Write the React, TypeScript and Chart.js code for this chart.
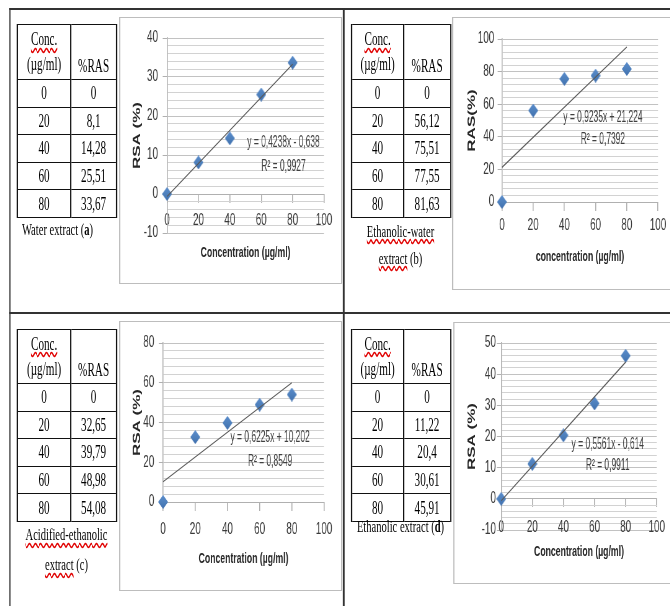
import React, { useEffect, useRef } from "react";
import { Chart, registerables } from "chart.js";

Chart.register(...registerables);
Chart.defaults.font.family = '"Liberation Sans", Arial, sans-serif';

// Whole figure is horizontally compressed (as in the reference image)
const S = 0.62;

// ---------------- data ----------------
const concentrations = [0, 20, 40, 60, 80];
const rasWater = [0, 8.1, 14.28, 25.51, 33.67];
const rasEthanolWater = [0, 56.12, 75.51, 77.55, 81.63];
const rasAcidEthanol = [0, 32.65, 39.79, 48.98, 54.08];
const rasEthanol = [0, 11.22, 20.4, 30.61, 45.91];

// trendline: slope, intercept, R²
const fitWater = [0.4238, -0.638, 0.9927];
const fitEthanolWater = [0.9235, 21.224, 0.7392];
const fitAcidEthanol = [0.6225, 10.202, 0.8549];
const fitEthanol = [0.5561, -0.614, 0.9911];

// y axis: min, max, major step
const yRangeWater = [-10, 40, 10];
const yRangeEthanolWater = [0, 100, 20];
const yRangeAcidEthanol = [0, 80, 20];
const yRangeEthanol = [-10, 50, 10];
const xRange = [0, 100, 20];

const headerConc = "Conc.";
const headerUnit = "(µg/ml)";
const headerRas = "%RAS";

const fmt = (n: number) => String(n).replace(".", ",");

const SERIF = '"Liberation Serif", "Times New Roman", serif';
const AXIS = "#b0b0b0";

function makeDiamond(w: number, h: number) {
  const c = document.createElement("canvas");
  c.width = w;
  c.height = h;
  const g = c.getContext("2d")!;
  const grad = g.createLinearGradient(0, 0, 0, h);
  grad.addColorStop(0, "#5a8ccc");
  grad.addColorStop(0.5, "#4f81bd");
  grad.addColorStop(1, "#3f6fae");
  g.fillStyle = grad;
  g.beginPath();
  g.moveTo(w / 2, 0);
  g.lineTo(w, h / 2);
  g.lineTo(w / 2, h);
  g.lineTo(0, h / 2);
  g.closePath();
  g.fill();
  return c;
}

type ChartProps = {
  box: number[];
  pad: { left: number; right: number; top: number; bottom: number };
  yAxisW: number;
  yTitlePad: number;
  yTickPad: number;
  xTickPad: number;
  xTitlePad: number;
  yRange: number[];
  values: number[];
  fit: number[];
  eqAt: number[];
  yTitle: string;
  xTitle: string;
};

function RegressionChart(p: ChartProps) {
  const ref = useRef<HTMLCanvasElement>(null);
  const [bl, bt, br, bb] = p.box;
  const W = Math.round((br - bl) / S);
  const H = bb - bt;

  useEffect(() => {
    const canvas = ref.current;
    if (!canvas) return;
    const [yMin, yMax, yMajor] = p.yRange;
    const [slope, intercept, r2] = p.fit;
    const isMajor = (v: number) =>
      Math.abs(v / yMajor - Math.round(v / yMajor)) < 1e-6;
    const first = concentrations[0];
    const last = concentrations[concentrations.length - 1];
    const diamond = makeDiamond(16, 14);
    const eqText = `y = ${fmt(slope)}x ${intercept < 0 ? "-" : "+"} ${fmt(
      Math.abs(intercept)
    )}`;
    const r2Text = `R² = ${fmt(r2)}`;

    const eqPlugin = {
      id: "eqLabel",
      afterDatasetsDraw(chart: any) {
        const { ctx, scales } = chart;
        const xs = scales.x;
        const ys = scales.y;
        const px = xs.getPixelForValue(p.eqAt[0]);
        const lines: [string, number][] = [
          [eqText, ys.getPixelForValue(p.eqAt[1])],
          [r2Text, ys.getPixelForValue(p.eqAt[2])],
        ];
        for (const [t, py] of lines) {
          ctx.save();
          ctx.font = '16px "Liberation Sans", Arial, sans-serif';
          ctx.fillStyle = "#404040";
          ctx.textAlign = "center";
          ctx.textBaseline = "middle";
          ctx.translate(px, py);
          ctx.scale(0.85, 1);
          ctx.fillText(t, 0, 0);
          ctx.restore();
        }
      },
    };

    const chart = new Chart(canvas, {
      type: "scatter",
      data: {
        datasets: [
          {
            label: "Trendline",
            data: [
              { x: first, y: slope * first + intercept },
              { x: last, y: slope * last + intercept },
            ],
            showLine: true,
            borderColor: "#5a5a5a",
            borderWidth: 1.3,
            pointRadius: 0,
            pointHoverRadius: 0,
            order: 0,
            clip: false,
          } as any,
          {
            label: "%RAS",
            data: concentrations.map((c, i) => ({ x: c, y: p.values[i] })),
            pointStyle: diamond as any,
            pointRadius: 7,
            backgroundColor: "#4f81bd",
            borderColor: "#4f81bd",
            order: 1,
            clip: false,
          } as any,
        ],
      },
      options: {
        animation: false,
        responsive: false,
        maintainAspectRatio: false,
        events: [],
        layout: { padding: p.pad },
        plugins: {
          legend: { display: false },
          tooltip: { enabled: false },
        },
        scales: {
          x: {
            type: "linear",
            position: { y: 0 } as any,
            min: xRange[0],
            max: xRange[1],
            ticks: {
              stepSize: xRange[2],
              padding: p.xTickPad,
              color: "#3a3a3a",
              font: { size: 16 },
              maxRotation: 0,
              autoSkip: false,
            },
            grid: {
              drawOnChartArea: false,
              drawTicks: true,
              tickLength: 8,
              color: AXIS,
              lineWidth: 1.6,
            },
            border: { display: true, color: AXIS, width: 1 },
            title: {
              display: true,
              text: p.xTitle,
              color: "#262626",
              font: { size: 14, weight: "bold" },
              padding: { top: p.xTitlePad, bottom: 0 },
            },
          },
          y: {
            type: "linear",
            position: "left",
            min: yMin,
            max: yMax,
            afterFit: (s: any) => {
              s.width = p.yAxisW;
            },
            ticks: {
              stepSize: yMajor / 5,
              autoSkip: false,
              padding: p.yTickPad,
              color: "#3a3a3a",
              font: { size: 16 },
              callback: (v: any) =>
                isMajor(Number(v)) ? String(Math.round(Number(v))) : "",
            },
            grid: {
              drawTicks: true,
              tickLength: 7,
              lineWidth: 1,
              color: (c: any) =>
                c.tick && isMajor(c.tick.value) ? "#c2c2c2" : "#d2d2d2",
              tickColor: (c: any) =>
                c.tick && isMajor(c.tick.value) ? AXIS : "rgba(0,0,0,0)",
            },
            border: { display: true, color: AXIS, width: 1.6 },
            title: {
              display: true,
              text: p.yTitle,
              color: "#262626",
              font: { size: 17, weight: "bold" },
              padding: { top: p.yTitlePad, bottom: 0 },
            },
          } as any,
        },
      },
      plugins: [eqPlugin],
    });
    return () => chart.destroy();
  }, []);

  return (
    <>
      <div
        style={{
          position: "absolute",
          left: bl / S,
          top: bt,
          width: W,
          height: H,
          boxSizing: "border-box",
          borderStyle: "solid",
          borderColor: "#bdbdbd",
          borderWidth: "1.5px 2.4px",
          background: "#fff",
        }}
      />
      <canvas
        ref={ref}
        width={W}
        height={H}
        style={{
          position: "absolute",
          left: bl / S,
          top: bt,
          width: W,
          height: H,
        }}
      />
    </>
  );
}

const wavy: React.CSSProperties = {
  textDecorationLine: "underline",
  textDecorationStyle: "wavy",
  textDecorationColor: "#e00000",
  textUnderlineOffset: "2px",
};

function DataTable(p: {
  x: number;
  y: number;
  c1: number;
  c2: number;
  headerH: number;
  rowH: number;
  values: number[];
}) {
  const cell: React.CSSProperties = {
    padding: 0,
    textAlign: "center",
    verticalAlign: "middle",
    borderTop: "1px solid #111",
    borderBottom: "1px solid #111",
    borderLeft: "2px solid #111",
    borderRight: "2px solid #111",
    fontFamily: SERIF,
    fontSize: 18,
    lineHeight: "20px",
    color: "#000",
  };
  return (
    <table
      style={{
        position: "absolute",
        left: p.x / S,
        top: p.y,
        width: (p.c1 + p.c2) / S,
        borderCollapse: "collapse",
        tableLayout: "fixed",
      }}
    >
      <colgroup>
        <col style={{ width: p.c1 / S }} />
        <col style={{ width: p.c2 / S }} />
      </colgroup>
      <tbody>
        <tr style={{ height: p.headerH }}>
          <td style={{ ...cell, lineHeight: "25px" }}>
            <span style={wavy}>{headerConc}</span>
            <br />
            {headerUnit}
          </td>
          <td style={{ ...cell, verticalAlign: "bottom", lineHeight: "25px" }}>
            {headerRas}
          </td>
        </tr>
        {concentrations.map((c, i) => (
          <tr key={c} style={{ height: p.rowH }}>
            <td style={cell}>{fmt(c)}</td>
            <td style={cell}>{fmt(p.values[i])}</td>
          </tr>
        ))}
      </tbody>
    </table>
  );
}

function Line(p: { x: number; y: number; w: number; h: number }) {
  return (
    <div
      style={{
        position: "absolute",
        left: p.x / S,
        top: p.y,
        width: p.w / S,
        height: p.h,
        background: "#333",
      }}
    />
  );
}

function Caption(p: {
  x: number;
  y: number;
  w: number;
  lh: number;
  align: "left" | "center";
  children: React.ReactNode;
}) {
  return (
    <div
      style={{
        position: "absolute",
        left: p.x / S,
        top: p.y,
        width: p.w / S,
        textAlign: p.align,
        fontFamily: SERIF,
        fontSize: 17,
        lineHeight: `${p.lh}px`,
        color: "#000",
        whiteSpace: "nowrap",
      }}
    >
      {p.children}
    </div>
  );
}

export default function App() {
  return (
    <div
      style={{
        position: "fixed",
        left: 0,
        top: 0,
        width: 670,
        height: 606,
        overflow: "hidden",
        background: "#fff",
      }}
    >
      <div
        style={{
          position: "absolute",
          left: 0,
          top: 0,
          width: 670 / S,
          height: 606,
          transform: `scaleX(${S})`,
          transformOrigin: "0 0",
        }}
      >
        {/* frame */}
        <Line x={9.5} y={8.3} w={661} h={1.5} />
        <Line x={9.2} y={8.3} w={1.6} h={598} />
        <Line x={343} y={8.3} w={1.6} h={598} />
        <Line x={9.5} y={312} w={661} h={1.6} />

        {/* panel (a) */}
        <DataTable x={17} y={24} c1={53} c2={46} headerH={55} rowH={27.6} values={rasWater} />
        <Caption x={22} y={220} w={100} lh={20} align="left">
          Water extract (<b>a</b>)
        </Caption>
        <RegressionChart
          box={[119, 17, 342, 284]}
          pad={{ left: 10, right: 29.4, top: 21, bottom: 51 }}
          yAxisW={67.4}
          yTitlePad={8.8}
          yTickPad={7.5}
          xTickPad={9.4}
          xTitlePad={5}
          yRange={yRangeWater}
          values={rasWater}
          fit={fitWater}
          eqAt={[74.2, 13.1, 7.0]}
          yTitle="RSA (%)"
          xTitle="Concentration (µg/ml)"
        />

        {/* panel (b) */}
        <DataTable x={351} y={24} c1={52} c2={47} headerH={55} rowH={27.6} values={rasEthanolWater} />
        <Caption x={351} y={217.5} w={99} lh={27} align="center">
          <span style={wavy}>Ethanolic-water</span>
          <br />
          <span style={wavy}>extract</span> (b)
        </Caption>
        <RegressionChart
          box={[452, 17, 672, 290]}
          pad={{ left: 10, right: 22.7, top: 22, bottom: 88 }}
          yAxisW={70.6}
          yTitlePad={12.1}
          yTickPad={5.4}
          xTickPad={6.4}
          xTitlePad={7}
          yRange={yRangeEthanolWater}
          values={rasEthanolWater}
          fit={fitEthanolWater}
          eqAt={[64.7, 51.5, 38]}
          yTitle="RAS(%)"
          xTitle="concentration (µg/ml)"
        />

        {/* panel (c) */}
        <DataTable x={17} y={329} c1={53} c2={46} headerH={54} rowH={27.6} values={rasAcidEthanol} />
        <Caption x={17} y={520} w={99} lh={30} align="center">
          <span style={wavy}>Acidified-ethanolic</span>
          <br />
          <span style={wavy}>extract</span> (c)
        </Caption>
        <RegressionChart
          box={[119, 321, 342, 591]}
          pad={{ left: 10, right: 29.4, top: 22, bottom: 89 }}
          yAxisW={61}
          yTitlePad={8.8}
          yTickPad={7.1}
          xTickPad={10.4}
          xTitlePad={1}
          yRange={yRangeAcidEthanol}
          values={rasAcidEthanol}
          fit={fitAcidEthanol}
          eqAt={[66.5, 32.2, 20.1]}
          yTitle="RSA (%)"
          xTitle="Concentration (µg/ml)"
        />

        {/* panel (d) */}
        <DataTable x={351} y={329} c1={52} c2={47} headerH={54} rowH={27.6} values={rasEthanol} />
        <Caption x={351} y={514} w={99} lh={26} align="center">
          Ethanolic extract (<b>d</b>)
        </Caption>
        <RegressionChart
          box={[453, 322, 672, 584]}
          pad={{ left: 10, right: 22.4, top: 21, bottom: 54 }}
          yAxisW={67.4}
          yTitlePad={10.4}
          yTickPad={1.5}
          xTickPad={11.4}
          xTitlePad={-5}
          yRange={yRangeEthanol}
          values={rasEthanol}
          fit={fitEthanol}
          eqAt={[68.5, 17.3, 10.6]}
          yTitle="RSA (%)"
          xTitle="Concentration (µg/ml)"
        />
      </div>
    </div>
  );
}
